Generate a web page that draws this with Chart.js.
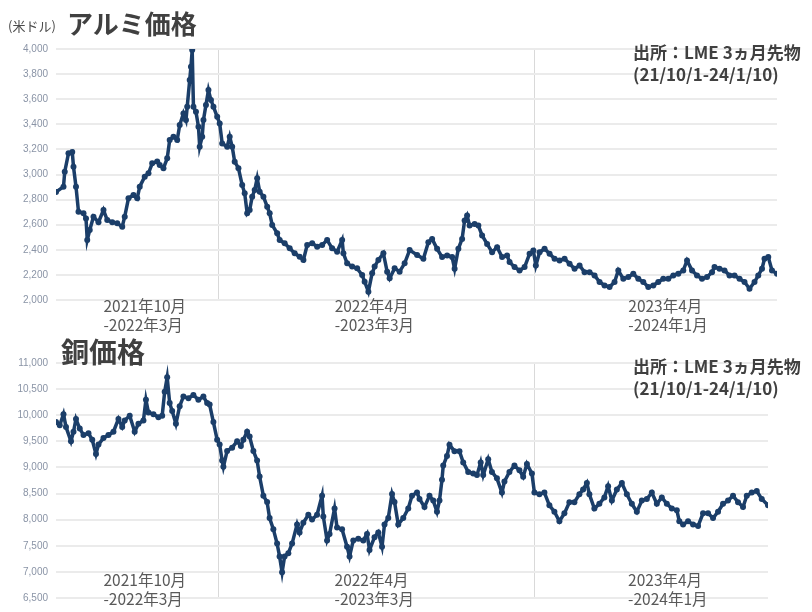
<!DOCTYPE html>
<html><head><meta charset="utf-8">
<script src="https://cdn.jsdelivr.net/npm/chart.js@4.4.0/dist/chart.umd.min.js"></script>
<style>
body{margin:0;background:#fff;width:812px;height:612px;position:relative;overflow:hidden;font-family:"Noto Sans CJK JP",sans-serif;}
canvas{position:absolute;left:0;}
.t{position:absolute;white-space:nowrap;color:#404040;line-height:1;}
</style></head><body>
<canvas id="c1" width="812" height="345" style="top:0"></canvas>
<canvas id="c2" width="812" height="282" style="top:330px"></canvas>
<div class="t" style="left:8px;top:19px;font-size:13px;color:#4a4a4a">(米ドル)</div>
<div class="t" style="left:67px;top:10px;font-size:26px;font-weight:700">アルミ価格</div>
<div class="t" style="left:633px;top:41px;font-size:17px;font-weight:700;line-height:22px">出所：LME 3ヵ月先物<br>(21/10/1-24/1/10)</div>
<div class="t" style="left:61px;top:337px;font-size:28px;font-weight:700">銅価格</div>
<div class="t" style="left:633px;top:355px;font-size:17px;font-weight:700;line-height:22px">出所：LME 3ヵ月先物<br>(21/10/1-24/1/10)</div>
<script>
// ---- data (x = trading-day index from 2021/10/1) ----
const periodBounds = [130, 383];
const periodNames = [['2021年10月', '-2022年3月'], ['2022年4月', '-2023年3月'], ['2023年4月', '-2024年1月']];
const periodLabelDays = [38, 223, 458];

const alDays = [0,6,7,10,13,14,16,18,22,24,25,27,30,34,38,41,45,49,53,55,58,62,65,67,71,74,77,81,83,86,89,91,94,97,99,102,104,105,107,108,109,110,112,114,115,117,118,120,122,124,126,129,131,133,137,139,141,143,146,149,151,153,155,157,159,161,163,166,169,171,173,177,179,183,187,191,195,198,201,205,209,213,217,221,225,229,230,233,237,241,245,247,250,253,255,258,262,265,267,271,275,279,283,289,294,298,301,305,309,313,317,319,322,325,327,329,331,335,338,341,345,349,353,357,361,363,367,371,375,379,382,384,387,391,395,399,403,407,411,415,419,423,427,431,435,439,443,447,450,454,458,462,466,470,474,478,482,486,490,494,498,502,505,509,513,517,521,525,527,531,535,539,543,547,551,555,559,562,565,567,570,573,577];
const alPrices = [2860,2903,3022,3169,3180,3062,2903,2704,2691,2650,2478,2558,2664,2620,2717,2637,2620,2611,2584,2664,2810,2837,2810,2903,2983,3010,3089,3103,3076,3050,3129,3275,3301,3275,3394,3487,3434,3540,3753,3859,3992,3540,3500,3381,3222,3301,3434,3554,3673,3593,3540,3460,3407,3248,3222,3301,3222,3102,3050,2916,2850,2691,2717,2823,2876,2970,2863,2823,2744,2691,2598,2531,2478,2452,2412,2372,2345,2319,2438,2452,2425,2438,2478,2412,2385,2478,2372,2292,2266,2252,2199,2146,2066,2213,2266,2319,2372,2226,2173,2252,2226,2292,2398,2359,2328,2461,2487,2408,2342,2355,2342,2249,2408,2487,2633,2673,2593,2606,2593,2514,2447,2381,2421,2342,2355,2302,2262,2236,2262,2368,2394,2275,2381,2408,2368,2328,2315,2328,2289,2249,2275,2222,2222,2196,2143,2116,2103,2143,2236,2169,2183,2209,2169,2143,2103,2116,2143,2169,2169,2196,2209,2236,2315,2236,2196,2169,2183,2222,2262,2249,2236,2196,2196,2169,2143,2090,2143,2196,2249,2328,2342,2236,2209];

const cuDays = [0,3,6,8,12,14,16,19,22,26,29,32,34,38,42,46,50,53,55,59,63,66,70,72,74,78,82,85,87,89,91,93,96,99,102,106,110,114,118,121,123,126,129,131,133,134,137,141,145,148,150,153,155,158,161,163,166,169,171,174,177,179,181,183,186,189,193,195,198,202,205,209,213,214,217,219,223,225,229,233,235,238,242,246,249,251,255,258,261,263,266,269,271,274,278,282,285,289,291,295,299,302,305,307,309,310,313,315,319,323,326,330,334,337,340,342,346,349,353,357,359,363,367,371,374,377,381,383,387,391,395,399,403,407,411,415,419,422,425,427,431,435,439,442,445,449,453,457,461,465,469,473,477,481,485,489,493,497,499,502,506,510,514,518,522,526,530,534,538,542,546,550,553,557,561,565,570];
const cuPrices = [9868,9807,10021,9776,9500,9684,9929,9745,9623,9654,9531,9256,9439,9562,9623,9684,9929,9776,9898,9990,9684,9837,9898,10296,10051,10021,9960,9990,10449,10725,10235,10082,9837,10174,10357,10327,10388,10296,10357,10235,10204,9868,9531,9439,9133,9011,9317,9378,9500,9409,9531,9684,9592,9317,9133,8827,8460,8338,8032,7818,7542,7297,6991,7297,7358,7542,7909,7756,7940,8093,8001,8093,8460,8062,7603,7726,8215,7848,7818,7481,7297,7603,7634,7603,7726,7420,7665,7756,7481,7909,8032,8491,8338,7909,8032,8215,8460,8521,8396,8243,8457,8365,8152,8365,8762,9036,9219,9433,9311,9311,9097,8914,8884,8853,9097,8853,9158,8914,8792,8518,8731,8914,9036,8945,8823,9067,8884,8518,8487,8518,8274,8152,7969,8121,8335,8335,8487,8579,8701,8487,8213,8304,8426,8640,8365,8579,8701,8487,8304,8152,8365,8396,8518,8304,8426,8304,8213,8182,7969,7908,7969,7908,7877,8121,8121,8030,8152,8304,8365,8457,8335,8243,8457,8518,8548,8396,8274];

const alAxis = [2000, 4000, 200];   // min, max, step
const cuAxis = [6500, 11000, 500];

const lineColor = '#1b3e69';

const labelPlugin = {
  id: 'periodLabels',
  afterDraw(chart, args, opts) {
    const ctx = chart.ctx, xs = chart.scales.x;
    ctx.save();
    ctx.font = '15.5px "Noto Sans CJK JP"';
    ctx.fillStyle = '#595959';
    ctx.textAlign = 'left';
    ctx.textBaseline = 'middle';
    periodNames.forEach((lines, i) => {
      const x = xs.getPixelForValue(periodLabelDays[i]);
      ctx.fillText(lines[0], x, opts.y1);
      ctx.fillText(lines[1], x, opts.y2);
    });
    ctx.restore();
  }
};

function makeChart(id, days, prices, axis, xMax, pad, lbl) {
  return new Chart(document.getElementById(id), {
    type: 'line',
    data: { datasets: [{
      data: days.map((d, i) => ({ x: d, y: prices[i] })),
      borderColor: lineColor, backgroundColor: lineColor,
      borderWidth: 3.5, pointRadius: 3, pointHoverRadius: 0,
      pointBorderWidth: 0, pointBackgroundColor: lineColor, tension: 0
    }]},
    options: {
      responsive: false, animation: false, events: [],
      layout: { padding: pad },
      plugins: { legend: { display: false }, tooltip: { enabled: false }, periodLabels: lbl },
      scales: {
        x: {
          type: 'linear', min: 0, max: xMax,
          afterBuildTicks: s => { s.ticks = periodBounds.map(v => ({ value: v })); },
          afterFit: s => { s.height = 0; },
          ticks: { display: false }, border: { display: false },
          grid: { color: '#d9d9d9', lineWidth: 1, drawTicks: false }
        },
        y: {
          min: axis[0], max: axis[1],
          afterFit: s => { s.width = 56; },
          border: { display: false },
          grid: { color: '#ebebeb', lineWidth: 2, drawTicks: false },
          ticks: { stepSize: axis[2], padding: 8, color: '#8a94a6',
                   font: { family: '"Liberation Sans", Arial, sans-serif', size: 10 },
                   callback: v => v.toLocaleString('en-US') }
        }
      }
    },
    plugins: [labelPlugin]
  });
}

makeChart('c1', alDays, alPrices, alAxis, 577, { top: 49, bottom: 45, right: 35, left: 0 }, { y1: 306, y2: 325 });
makeChart('c2', cuDays, cuPrices, cuAxis, 570, { top: 33, bottom: 5, right: 44, left: 0 }, { y1: 250, y2: 269 });
</script>
</body></html>
